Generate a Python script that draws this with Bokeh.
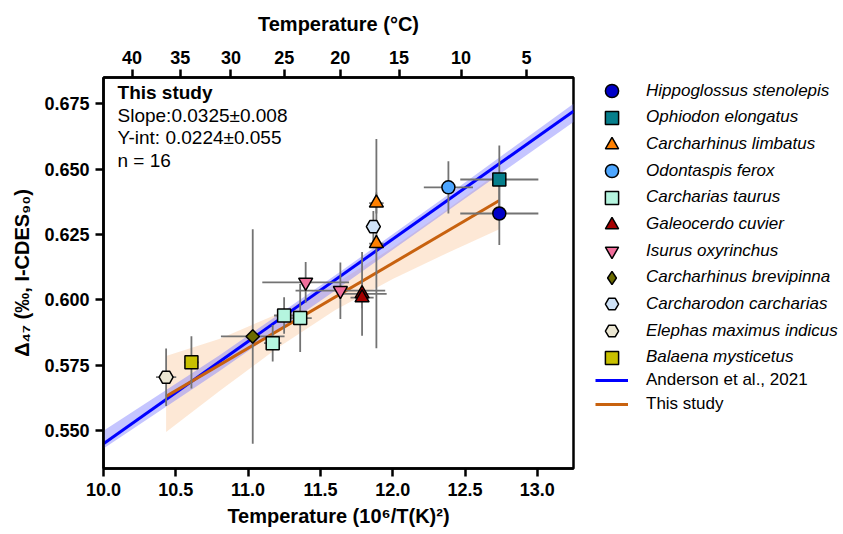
import math
from bokeh.plotting import figure
from bokeh.layouts import row
from bokeh.models import (Range1d, LinearAxis, FixedTicker, NumeralTickFormatter,
                          CustomJSTickFormatter, Legend, LegendItem, Label)
from bokeh.embed import file_html
from bokeh.resources import INLINE

# ---------------- data ----------------
species = ["Hippoglossus stenolepis", "Ophiodon elongatus", "Carcharhinus limbatus",
           "Odontaspis ferox", "Carcharias taurus", "Galeocerdo cuvier",
           "Isurus oxyrinchus", "Carcharhinus brevipinna", "Carcharodon carcharias",
           "Elephas maximus indicus", "Balaena mysticetus"]
markers = ["circle", "square", "triangle", "circle", "square", "triangle",
           "inverted_triangle", "diamond", "hex", "hex", "square"]
colors = ["#0000c8", "#067f8c", "#ff8000", "#4da6ff", "#b5f5df", "#a50000",
          "#f06e9b", "#6b6b00", "#cfe2f7", "#ebe6d2", "#c8c000"]

x_vals = [[12.737], [12.737], [11.887, 11.887], [12.385], [11.17, 11.249, 11.36],
          [11.788, 11.788], [11.398, 11.638], [11.032], [11.866], [10.433], [10.608]]
y_vals = [[0.633], [0.646], [0.637, 0.6215], [0.643], [0.5834, 0.594, 0.593],
          [0.6023, 0.6008], [0.6067, 0.6035], [0.586], [0.628], [0.5704], [0.5761]]
x_err = [[0.27], [0.27], [0.05, 0.05], [0.17], [0.06, 0.07, 0.08],
         [0.17, 0.08], [0.30, 0.31], [0.22], [0.03], [0.07], [0.05]]
y_err = [[0.012], [0.013], [0.004, 0.040], [0.010], [0.007, 0.007, 0.013],
         [0.016, 0.004], [0.0078, 0.0108], [0.041], [0.006], [0.011], [0.010]]

# Anderson et al., 2021 calibration line and its band
anderson_label = "Anderson et al., 2021"
anderson_slope = 0.0391
anderson_int = 0.154
anderson_x = [10.0, 13.25]
anderson_band_x = [10.0, 10.8, 11.6, 12.4, 13.25]
anderson_band_lo = [0.5431, 0.5727, 0.6035, 0.6348, 0.6680]
anderson_band_hi = [0.5499, 0.5787, 0.6093, 0.6408, 0.6750]

# This study regression
study_label = "This study"
study_slope = 0.0325
study_int = 0.224
study_x = [10.433, 12.737]
study_band_x = [10.433, 10.8, 11.2, 11.6, 12.0, 12.4, 12.737]
study_band_lo = [0.5495, 0.5650, 0.5815, 0.5960, 0.6080, 0.6185, 0.6270]
study_band_hi = [0.5785, 0.5850, 0.5945, 0.6060, 0.6200, 0.6355, 0.6490]

# top axis temperatures (deg C)
top_temps_c = [40, 35, 30, 25, 20, 15, 10, 5]
x_ticks = [10.0, 10.5, 11.0, 11.5, 12.0, 12.5, 13.0]
y_ticks = [0.550, 0.575, 0.600, 0.625, 0.650, 0.675]

annot_lines = ["This study", "Slope:0.0325\u00b10.008", "Y-int: 0.0224\u00b10.055", "n = 16"]
annot_y = [0.67920, 0.67060, 0.66200, 0.65340]

FONT = "Liberation Sans"
ERR_COLOR = "#737373"
AND_COLOR = "#0000ff"
STUDY_COLOR = "#c8620f"

def marker_style(m, legend=False):
    if m == "diamond":
        if legend:
            return "diamond", 13, 0.0
        return "square", 9.5, math.pi / 4
    if m in ("triangle", "inverted_triangle", "hex"):
        return m, 14, 0.0
    return m, 13, 0.0

BORDER_TOP, BORDER_BOTTOM, H = 77, 66, 534
p = figure(width=578, height=H, output_backend="svg", toolbar_location=None,
           x_range=Range1d(10.0, 13.25), y_range=Range1d(0.5355, 0.685),
           min_border_left=103, min_border_right=5,
           min_border_top=BORDER_TOP, min_border_bottom=BORDER_BOTTOM)
p.grid.visible = False
p.outline_line_color = "black"
p.outline_line_width = 2.5
p.background_fill_color = "white"

def style_axis(ax):
    ax.axis_line_width = 2.5
    ax.axis_line_color = "black"
    ax.major_tick_line_width = 2.5
    ax.major_tick_in = 0
    ax.major_tick_out = 8
    ax.minor_tick_line_color = None
    ax.major_label_text_font = FONT
    ax.major_label_text_font_style = "bold"
    ax.major_label_text_font_size = "18px"
    ax.major_label_text_color = "black"
    ax.axis_label_text_font = FONT
    ax.axis_label_text_font_style = "bold"
    ax.axis_label_text_font_size = "20px"
    ax.axis_label_text_color = "black"
    ax.major_label_standoff = 6

xa = p.xaxis[0]
style_axis(xa)
xa.ticker = FixedTicker(ticks=x_ticks)
xa.formatter = NumeralTickFormatter(format="0.0")
xa.axis_label = "Temperature (10\u2076/T(K)\u00b2)"
xa.axis_label_standoff = 6

ya = p.yaxis[0]
style_axis(ya)
ya.ticker = FixedTicker(ticks=y_ticks)
ya.formatter = NumeralTickFormatter(format="0.000")
ya.axis_label = "\u0394\u2084\u2087 (\u2030, I-CDES\u2089\u2080)"
ya.axis_label_standoff = 8

top = LinearAxis(ticker=FixedTicker(ticks=[1e6 / (t + 273.15) ** 2 for t in top_temps_c]),
                 formatter=CustomJSTickFormatter(code="return Math.round(Math.sqrt(1e6/tick) - 273.15).toString();"),
                 axis_label="Temperature (\u00b0C)")
style_axis(top)
top.axis_label_standoff = 13
p.add_layout(top, "above")

# bands
p.varea(x=study_band_x, y1=study_band_lo, y2=study_band_hi, fill_color="#fcd9bb", fill_alpha=0.6)
p.varea(x=anderson_band_x, y1=anderson_band_lo, y2=anderson_band_hi, fill_color="#7f7fff", fill_alpha=0.45)

# lines
anderson_y = [anderson_slope * v + anderson_int for v in anderson_x]
study_y = [study_slope * v + study_int for v in study_x]
p.line(anderson_x, anderson_y, line_color=AND_COLOR, line_width=3)
p.line(study_x, study_y, line_color=STUDY_COLOR, line_width=3)

# error bars
for xs, ys, xe, ye in zip(x_vals, y_vals, x_err, y_err):
    p.segment(x0=[a - e for a, e in zip(xs, xe)], y0=ys, x1=[a + e for a, e in zip(xs, xe)], y1=ys,
              line_color=ERR_COLOR, line_width=1.8)
    p.segment(x0=xs, y0=[b - e for b, e in zip(ys, ye)], x1=xs, y1=[b + e for b, e in zip(ys, ye)],
              line_color=ERR_COLOR, line_width=1.8)

# markers
for m, c, xs, ys in zip(markers, colors, x_vals, y_vals):
    mk, size, angle = marker_style(m)
    p.scatter(xs, ys, marker=mk, size=size, angle=angle, fill_color=c,
              line_color="black", line_width=1.5)

for i, (txt, yy) in enumerate(zip(annot_lines, annot_y)):
    p.add_layout(Label(x=10.097, y=yy, text=txt, text_font=FONT,
                       text_font_size="19px", text_font_style="bold" if i == 0 else "normal",
                       text_color="black", text_baseline="alphabetic"))

# ---------------- legend panel ----------------
# Legend renderers reuse the same data, but this panel's ranges keep them out of view.
LW = 265
p2 = figure(width=LW, height=H, output_backend="svg", toolbar_location=None,
            x_axis_type=None, y_axis_type=None,
            min_border_left=0, min_border_right=0,
            min_border_top=BORDER_TOP, min_border_bottom=BORDER_BOTTOM,
            x_range=Range1d(0, 1), y_range=Range1d(0, 1))
p2.grid.visible = False
p2.outline_line_color = None
FRAME_BOTTOM = H - BORDER_BOTTOM

def add_legend_item(label, renderer, center_y, gh, italic):
    leg = Legend(items=[LegendItem(label=label, renderers=[renderer])],
                 location=(17, FRAME_BOTTOM - center_y - gh / 2), padding=0, margin=0,
                 glyph_width=33, glyph_height=gh, spacing=0, label_standoff=18,
                 label_height=gh,
                 label_text_font=FONT, label_text_font_style="italic" if italic else "normal",
                 label_text_font_size="17px", label_text_color="black",
                 border_line_alpha=0, background_fill_alpha=0)
    p2.add_layout(leg)

first_y, pitch = 90.7, 26.66
for k, (name, m, c, xs, ys) in enumerate(zip(species, markers, colors, x_vals, y_vals)):
    mk, size, angle = marker_style(m, legend=True)
    r = p2.scatter(xs, ys, marker=mk, size=size, angle=angle, fill_color=c,
                   line_color="black", line_width=1.5)
    add_legend_item(name, r, first_y + k * pitch, 33, True)

r_and = p2.line(anderson_x, anderson_y, line_color=AND_COLOR, line_width=3)
r_study = p2.line(study_x, study_y, line_color=STUDY_COLOR, line_width=3)
add_legend_item(anderson_label, r_and, 380.0, 20, False)
add_legend_item(study_label, r_study, 403.5, 20, False)

open("out.html", "w").write(file_html(row(p, p2), INLINE))
